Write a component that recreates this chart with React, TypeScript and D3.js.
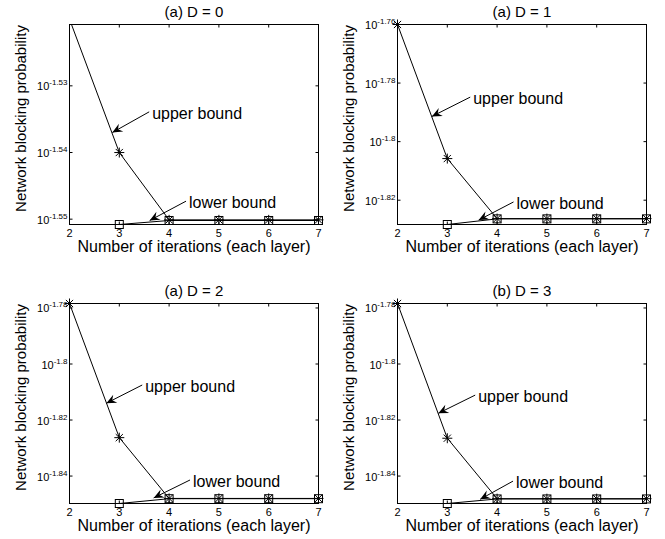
import * as d3 from "d3";

// iterations (x) for each bound
const upperIters = [2, 3, 4, 5, 6, 7];
const lowerIters = [3, 4, 5, 6, 7];
const xTicks = [2, 3, 4, 5, 6, 7];

const titles = ["(a) D = 0", "(a) D = 1", "(a) D = 2", "(b) D = 3"];

// network blocking probability
const upperD0 = [0.0302, 0.02884, 0.028177, 0.028177, 0.028177, 0.028177];
const lowerD0 = [0.028132, 0.028171, 0.028171, 0.028171, 0.028171];
const upperD1 = [0.017378, 0.015639, 0.014918, 0.014918, 0.014918, 0.014918];
const lowerD1 = [0.014849, 0.014915, 0.014915, 0.014915, 0.014915];
const upperD2 = [0.016657, 0.014918, 0.014191, 0.014191, 0.014191, 0.014191];
const lowerD2 = [0.014132, 0.014188, 0.014188, 0.014188, 0.014188];
const upperD3 = [0.016657, 0.014911, 0.014188, 0.014188, 0.014188, 0.014188];
const lowerD3 = [0.014132, 0.014185, 0.014185, 0.014185, 0.014185];

// y limits of each panel
const yLimits = [
  [0.028132, 0.030144],
  [0.014849, 0.017378],
  [0.014132, 0.016657],
  [0.014132, 0.016657],
];

// tick labels are 10^exponent
const yTickExps = [
  [-1.53, -1.54, -1.55],
  [-1.76, -1.78, -1.8, -1.82],
  [-1.78, -1.8, -1.82, -1.84],
  [-1.78, -1.8, -1.82, -1.84],
];

// text arrows: tip and tail as [iteration, log10 probability]
const upperArrows = [
  [[2.86, -1.537], [3.6, -1.5339]],
  [[2.69, -1.7914], [3.46, -1.7848]],
  [[2.74, -1.814], [3.46, -1.8075]],
  [[2.82, -1.8176], [3.56, -1.8111]],
];
const lowerArrows = [
  [[3.61, -1.5502], [4.34, -1.5473]],
  [[3.63, -1.8268], [4.33, -1.8206]],
  [[3.69, -1.8478], [4.42, -1.8414]],
  [[3.66, -1.8483], [4.32, -1.8418]],
];

const upperSeries = [upperD0, upperD1, upperD2, upperD3];
const lowerSeries = [lowerD0, lowerD1, lowerD2, lowerD3];

const font = "'Liberation Sans', Arial, Helvetica, sans-serif";
const W = 249;
const H = 200;
const lefts = [69.5, 397.5];
const tops = [24.5, 303.5];

function arrowHead(tx: number, ty: number, fx: number, fy: number) {
  const ang = Math.atan2(ty - fy, tx - fx);
  const L = 10;
  const hw = 4.5;
  const back = (d: number, s: number) => [
    tx - d * Math.cos(ang) - s * Math.sin(ang),
    ty - d * Math.sin(ang) + s * Math.cos(ang),
  ];
  const p1 = back(L, hw);
  const p2 = back(L * 0.65, 0);
  const p3 = back(L, -hw);
  return `M${tx},${ty}L${p1[0]},${p1[1]}L${p2[0]},${p2[1]}L${p3[0]},${p3[1]}Z`;
}

function Panel({ i }: { i: number }) {
  const left = lefts[i % 2];
  const top = tops[Math.floor(i / 2)];
  const x = d3.scaleLinear().domain([2, 7]).range([left, left + W]);
  const y = d3.scaleLog().domain(yLimits[i]).range([top + H, top]);

  const upper = upperSeries[i].map((v, k) => [upperIters[k], v] as [number, number]);
  const lower = lowerSeries[i].map((v, k) => [lowerIters[k], v] as [number, number]);
  const line = d3
    .line<[number, number]>()
    .x((d) => x(d[0]))
    .y((d) => y(d[1]));
  const inside = (d: [number, number]) => d[1] <= yLimits[i][1] * 1.0001;

  const star = (cx: number, cy: number) => {
    const r = 5;
    const q = r * 0.72;
    return `M${cx - r},${cy}H${cx + r}M${cx},${cy - r}V${cy + r}M${cx - q},${cy - q}L${cx + q},${cy + q}M${cx - q},${cy + q}L${cx + q},${cy - q}`;
  };

  const arrows = [
    { a: upperArrows[i], label: "upper bound" },
    { a: lowerArrows[i], label: "lower bound" },
  ];

  return (
    <g>
      <defs>
        <clipPath id={`clip${i}`}>
          <rect x={left} y={top} width={W} height={H} />
        </clipPath>
      </defs>
      <text x={left + W / 2} y={top - 8} textAnchor="middle" fontSize={15} fontFamily={font}>
        {titles[i]}
      </text>
      {/* ticks */}
      {xTicks.map((t) => (
        <g key={`x${t}`}>
          <line x1={x(t)} x2={x(t)} y1={top + H} y2={top + H - 3} stroke="#000" />
          <line x1={x(t)} x2={x(t)} y1={top} y2={top + 3} stroke="#000" />
          <text x={x(t)} y={top + H + 12.5} textAnchor="middle" fontSize={11} fontFamily={font}>
            {t}
          </text>
        </g>
      ))}
      {yTickExps[i].map((e) => {
        const ty = y(10 ** e);
        return (
          <g key={`y${e}`}>
            <line x1={left} x2={left + 3} y1={ty} y2={ty} stroke="#000" />
            <line x1={left + W} x2={left + W - 3} y1={ty} y2={ty} stroke="#000" />
            <text x={left - 2} y={ty + 4.5} textAnchor="end" fontSize={11} fontFamily={font}>
              10
              <tspan dy={-5} fontSize={8}>
                {String(e)}
              </tspan>
            </text>
          </g>
        );
      })}
      <text
        transform={`translate(${left - 44},${top + H / 2 - 6}) rotate(-90)`}
        textAnchor="middle"
        fontSize={15}
        fontFamily={font}
      >
        Network blocking probability
      </text>
      <text x={left + W / 2} y={top + H + 27.5} textAnchor="middle" fontSize={16} fontFamily={font}>
        Number of iterations (each layer)
      </text>
      {/* series */}
      <g clipPath={`url(#clip${i})`} fill="none" stroke="#000" strokeWidth={1}>
        <path d={line(upper) || ""} />
        <path d={line(lower) || ""} />
      </g>
      {upper.filter(inside).map((d) => (
        <path key={`u${d[0]}`} d={star(x(d[0]), y(d[1]))} stroke="#000" fill="none" />
      ))}
      {lower.map((d) => (
        <rect
          key={`l${d[0]}`}
          x={x(d[0]) - 4}
          y={y(d[1]) - 4}
          width={8}
          height={8}
          stroke="#000"
          fill="none"
        />
      ))}
      {/* annotations */}
      {arrows.map(({ a, label }) => {
        const tx = x(a[0][0]);
        const ty = y(10 ** a[0][1]);
        const fx = x(a[1][0]);
        const fy = y(10 ** a[1][1]);
        return (
          <g key={label}>
            <line x1={fx} y1={fy} x2={tx} y2={ty} stroke="#000" />
            <path d={arrowHead(tx, ty, fx, fy)} fill="#000" />
            <text x={fx + 3} y={fy + 7} fontSize={16} fontFamily={font}>
              {label}
            </text>
          </g>
        );
      })}
      <rect x={left} y={top} width={W} height={H} fill="none" stroke="#000" />
    </g>
  );
}

export default function App() {
  return (
    <svg
      width={665}
      height={539}
      style={{ position: "absolute", left: 0, top: 0, background: "#fff" }}
    >
      {[0, 1, 2, 3].map((i) => (
        <Panel key={i} i={i} />
      ))}
    </svg>
  );
}
